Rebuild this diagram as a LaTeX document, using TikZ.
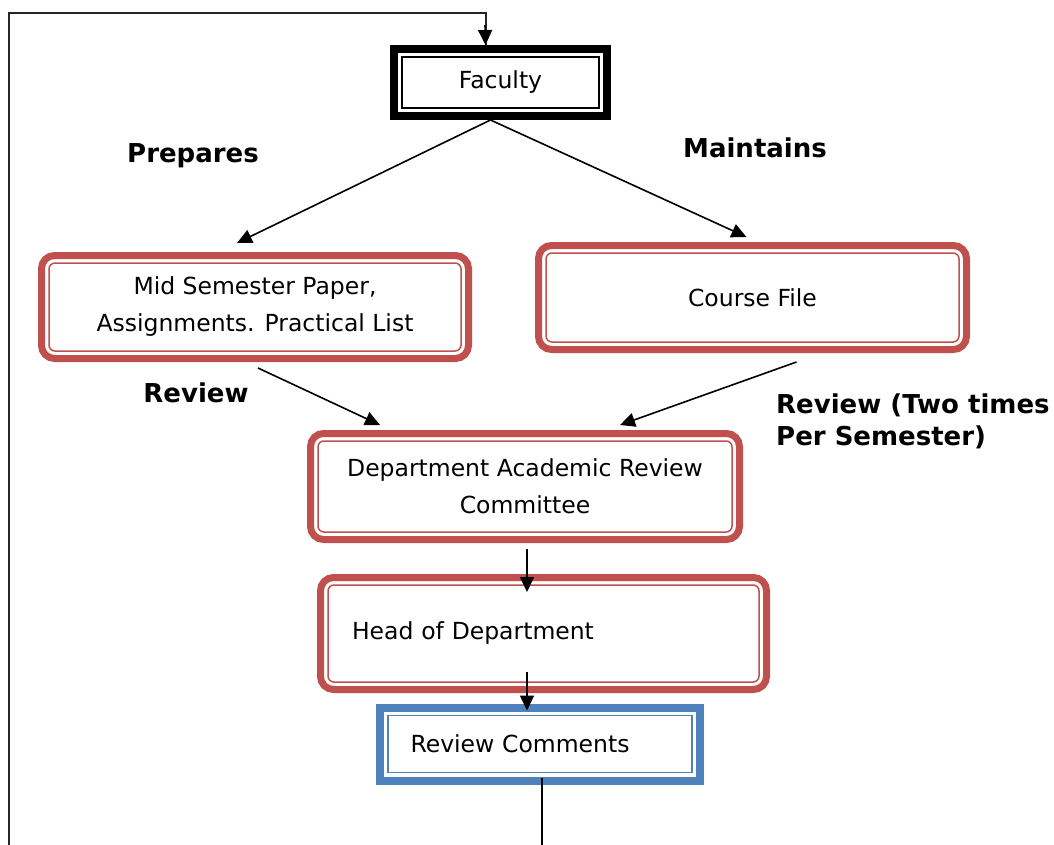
\documentclass[tikz,border=0pt]{standalone}
\usepackage{fontspec}
\setmainfont{DejaVu Sans}
\usetikzlibrary{arrows.meta}
\definecolor{boxred}{HTML}{C0504D}
\definecolor{boxblue}{HTML}{4F81BD}
\begin{document}
\begin{tikzpicture}[x=1pt,y=-1pt,
  every node/.style={font=\fontsize{23.5}{37}\selectfont, inner sep=0pt},
  redbox/.style={draw=boxred, line width=7pt, rounded corners=13pt, fill=white, align=center},
  redinner/.style={draw=boxred, line width=1.5pt, rounded corners=6pt},
  blackbox/.style={draw=black, line width=8pt, fill=white},
  bluebox/.style={draw=boxblue, line width=8pt, fill=white},
  thininner/.style={line width=1.5pt},
  lbl/.style={font=\fontsize{26}{32}\selectfont\bfseries},
  link/.style={line width=1.6pt, -{Triangle[length=15pt,width=14pt]}},
  plain/.style={line width=1.6pt},
  loopline/.style={line width=2pt, draw=black!85},
]
\useasboundingbox (0,0) rectangle (1054,845);

% boxes
\node[blackbox, minimum width=213pt, minimum height=67pt] (fac) at (500.5,82.5) {Faculty};
\node[redbox, minimum width=427pt, minimum height=103pt] (mid) at (255,307)
  {Mid Semester Paper,\\Assignments. Practical List};
\node[redbox, minimum width=428pt, minimum height=104pt] (course) at (752.5,297.5) {Course File};
\node[redbox, minimum width=429pt, minimum height=106pt] (dept) at (525,486.5)
  {Department Academic Review\\Committee};
\node[redbox, minimum width=446pt, minimum height=112pt, align=left,
      text width=383pt, inner xsep=31.5pt] (hod) at (543.5,633.5) {Head of Department};
\node[bluebox, minimum width=320pt, minimum height=73pt, align=left,
      text width=259pt, inner xsep=30.5pt] (rc) at (540,744) {Review Comments};

% inner rules of the framed boxes (anchors sit on the outer edge of the frame)
\foreach \n in {mid,course,dept,hod}
  \draw[redinner] ([shift={(11,-11)}]\n.south west) rectangle ([shift={(-11,11)}]\n.north east);
\draw[thininner] ([shift={(12,-12)}]fac.south west) rectangle ([shift={(-12,12)}]fac.north east);
\draw[thininner, draw=boxblue] ([shift={(12,-12)}]rc.south west) rectangle ([shift={(-12,12)}]rc.north east);

% labels
\node[lbl] (prep) at (193,156) {Prepares};
\node[lbl] (maint) at (755,148) {Maintains};
\node[lbl] (rev1) at (196,393) {Review};
\node[lbl, anchor=west, align=left] (rev2) at (776,421) {Review (Two times\\Per Semester)};

% connectors
\draw[link] ([xshift=-10]fac.south) -- ([shift={(-18,-9)}]mid.north);
\draw[link] ([xshift=-10]fac.south) -- ([shift={(-6,-5)}]course.north);
\draw[link] ([shift={(3,6)}]mid.south) -- ([shift={(-145,-5)}]dept.north);
\draw[link] ([shift={(44,9)}]course.south) -- ([shift={(95,-5)}]dept.north);
\draw[link] ([shift={(2,6)}]dept.south) -- ([shift={(2,18)}]dept.south |- hod.north);
\draw[link] ([shift={(-16.5,-21)}]hod.south) -- ([shift={(-16.5,7)}]hod.south |- rc.north);

% feedback loop
\coordinate (loopa) at (542,845);
\coordinate (loopb) at (9,845);
\draw[plain] ([shift={(2,-7)}]rc.south) -- (loopa);
\draw[loopline] (loopb) -- (9,13) -| ([xshift=-15]fac.north);
\draw[link] (485,25) -- ([xshift=-15]fac.north);
\end{tikzpicture}
\end{document}
